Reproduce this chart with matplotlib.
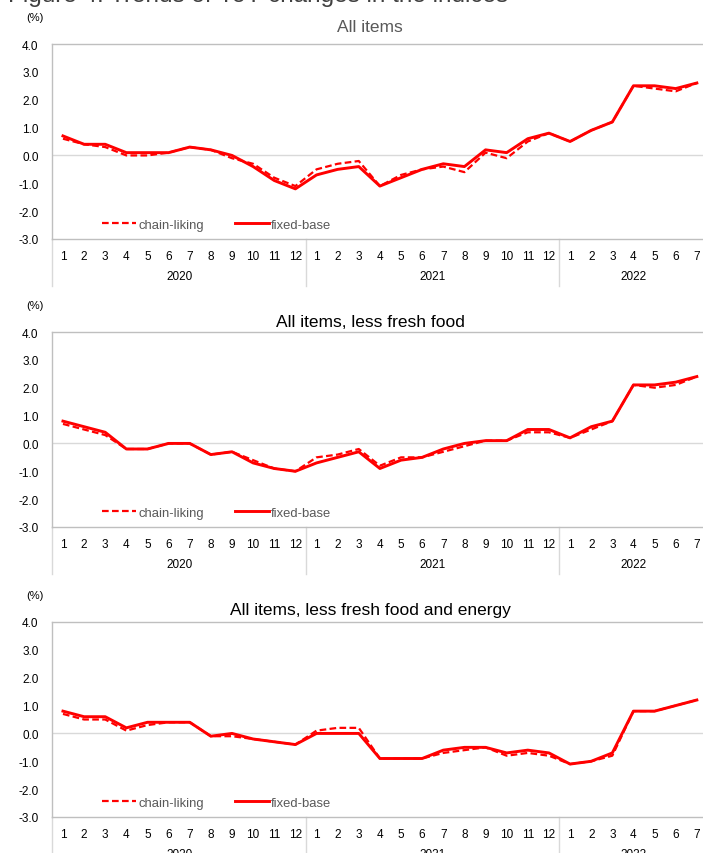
import numpy as np
import matplotlib
matplotlib.use('Agg')
import matplotlib.pyplot as plt
import matplotlib.transforms as mtransforms

plt.rcParams['font.family'] = ['Liberation Sans', 'DejaVu Sans']

OUT_PATH = 'out.png'

# months Jan 2020 .. Jul 2022
months = [str(m) for m in range(1, 13)] * 2 + [str(m) for m in range(1, 8)]
years = ['2020', '2021', '2022']
year_lengths = [12, 12, 7]

titles = ['All items', 'All items, less fresh food', 'All items, less fresh food and energy']

# All items
all_chain = [0.6, 0.4, 0.3, 0.0, 0.0, 0.1, 0.3, 0.2, -0.1, -0.3, -0.8, -1.1,
             -0.5, -0.3, -0.2, -1.1, -0.7, -0.5, -0.4, -0.6, 0.1, -0.1, 0.5, 0.8,
             0.5, 0.9, 1.2, 2.5, 2.4, 2.3, 2.6]
all_fixed = [0.7, 0.4, 0.4, 0.1, 0.1, 0.1, 0.3, 0.2, 0.0, -0.4, -0.9, -1.2,
             -0.7, -0.5, -0.4, -1.1, -0.8, -0.5, -0.3, -0.4, 0.2, 0.1, 0.6, 0.8,
             0.5, 0.9, 1.2, 2.5, 2.5, 2.4, 2.6]

# All items, less fresh food
core_chain = [0.7, 0.5, 0.3, -0.2, -0.2, 0.0, 0.0, -0.4, -0.3, -0.6, -0.9, -1.0,
              -0.5, -0.4, -0.2, -0.8, -0.5, -0.5, -0.3, -0.1, 0.1, 0.1, 0.4, 0.4,
              0.2, 0.5, 0.8, 2.1, 2.0, 2.1, 2.4]
core_fixed = [0.8, 0.6, 0.4, -0.2, -0.2, 0.0, 0.0, -0.4, -0.3, -0.7, -0.9, -1.0,
              -0.7, -0.5, -0.3, -0.9, -0.6, -0.5, -0.2, 0.0, 0.1, 0.1, 0.5, 0.5,
              0.2, 0.6, 0.8, 2.1, 2.1, 2.2, 2.4]

# All items, less fresh food and energy
core2_chain = [0.7, 0.5, 0.5, 0.1, 0.3, 0.4, 0.4, -0.1, -0.1, -0.2, -0.3, -0.4,
               0.1, 0.2, 0.2, -0.9, -0.9, -0.9, -0.7, -0.6, -0.5, -0.8, -0.7, -0.8,
               -1.1, -1.0, -0.8, 0.8, 0.8, 1.0, 1.2]
core2_fixed = [0.8, 0.6, 0.6, 0.2, 0.4, 0.4, 0.4, -0.1, 0.0, -0.2, -0.3, -0.4,
               0.0, 0.0, 0.0, -0.9, -0.9, -0.9, -0.6, -0.5, -0.5, -0.7, -0.6, -0.7,
               -1.1, -1.0, -0.7, 0.8, 0.8, 1.0, 1.2]

series = [(all_chain, all_fixed), (core_chain, core_fixed), (core2_chain, core2_fixed)]

GRAY = '#595959'
GRID = '#D9D9D9'
RED = '#FF0000'

fig = plt.figure(figsize=(7.03, 8.54), dpi=100)
H = 854.0
W = 703.0

# axes top/bottom in pixels for each panel
panel_px = [(45, 240), (333, 528), (623, 818)]
title_y = [28, 323, 611]
title_colors = [GRAY, 'black', 'black']

x = np.arange(len(months))

for i, (top, bottom) in enumerate(panel_px):
    ax = fig.add_axes([52.4 / W, 1 - bottom / H, 655 / W, (bottom - top) / H])
    chain, fixed = series[i]
    ax.plot(x, chain, color=RED, lw=1.6, dashes=(3, 1.5), label='chain-liking')
    ax.plot(x, fixed, color=RED, lw=2.1, label='fixed-base')

    ax.set_xlim(-0.5, len(months) - 0.5)
    ax.set_ylim(-3, 4)
    ax.set_yticks(np.arange(-3, 5, 1))
    ax.set_yticklabels(['%.1f' % v for v in np.arange(-3, 5, 1)])
    ax.set_xticks(x)
    ax.set_xticklabels(months)
    ax.tick_params(axis='both', length=0, labelsize=8.5, colors='black')
    ax.tick_params(axis='x', pad=8)
    ax.tick_params(axis='y', pad=10)

    ax.spines['right'].set_visible(False)
    for s in ['left', 'top', 'bottom']:
        ax.spines[s].set_color('#BFBFBF')
        ax.spines[s].set_linewidth(1.0)
    ax.axhline(0, color=GRID, lw=1.0, zorder=0)

    # year separators and year labels below the month labels
    trans = mtransforms.blended_transform_factory(ax.transData, ax.transAxes)
    start = 0
    for yr, n in zip(years, year_lengths):
        ax.plot([start - 0.5, start - 0.5], [0, -0.24], transform=trans,
                color=GRID, lw=1.0, clip_on=False)
        ax.text(start + (n - 1) / 2, -0.19, yr, transform=trans, ha='center',
                va='center', fontsize=8.5)
        start += n

    ax.legend(ncol=2, loc='center left', bbox_to_anchor=(0.058, 0.072),
              frameon=False, fontsize=9.4, handlelength=2.6,
              handletextpad=0.15, columnspacing=2.4, labelcolor=GRAY)

    fig.text(370 / W, 1 - title_y[i] / H, titles[i], ha='center', va='center',
             fontsize=12.5, color=title_colors[i])
    fig.text(35 / W, 1 - (top - 27) / H, '(%)', ha='center', va='center', fontsize=8)

fig.text(8 / W, 1 - 2 / H, 'Figure 4. Trends of YoY changes in the indices',
         ha='left', va='baseline', fontsize=17.5, color='#404040')

fig.savefig(OUT_PATH, dpi=100)
